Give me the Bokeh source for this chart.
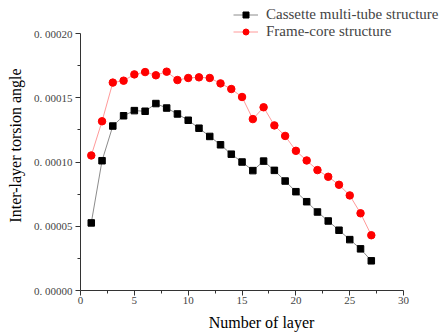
from bokeh.plotting import figure
from bokeh.models import FixedTicker, CustomJSTickFormatter, Legend, LegendItem, Range1d
from bokeh.embed import file_html
from bokeh.resources import INLINE

layers = list(range(1, 28))
cassette = [5.26e-5, 1.01e-4, 1.28e-4, 1.36e-4, 1.40e-4, 1.395e-4, 1.455e-4, 1.42e-4, 1.374e-4,
            1.325e-4, 1.263e-4, 1.199e-4, 1.134e-4, 1.061e-4, 1.00e-4, 9.33e-5, 1.007e-4, 9.35e-5,
            8.52e-5, 7.69e-5, 6.91e-5, 6.11e-5, 5.41e-5, 4.69e-5, 3.96e-5, 3.24e-5, 2.31e-5]
frame_core = [1.051e-4, 1.317e-4, 1.618e-4, 1.633e-4, 1.682e-4, 1.70e-4, 1.675e-4, 1.703e-4, 1.638e-4,
              1.654e-4, 1.659e-4, 1.654e-4, 1.612e-4, 1.568e-4, 1.506e-4, 1.334e-4, 1.426e-4, 1.285e-4,
              1.203e-4, 1.087e-4, 1.012e-4, 9.37e-5, 8.85e-5, 8.23e-5, 7.40e-5, 6.01e-5, 4.30e-5]
series_names = ["Cassette multi-tube structure", "Frame-core structure"]
x_ticks = [0, 5, 10, 15, 20, 25, 30]
x_minor = [2.5, 7.5, 12.5, 17.5, 22.5, 27.5]
y_ticks = [0.0, 0.00005, 0.0001, 0.00015, 0.0002]
y_minor = [0.000025, 0.000075, 0.000125, 0.000175]

p = figure(width=442, height=333, output_backend="svg", toolbar_location=None,
           x_range=Range1d(0, 33.61), y_range=Range1d(0, 0.0002257),
           min_border_left=80, min_border_right=0, min_border_top=0, min_border_bottom=43)
p.outline_line_color = None
p.grid.visible = False
p.background_fill_color = "white"
p.border_fill_color = "white"

serif = "Liberation Serif"

l1 = p.line(layers, cassette, line_color="#8c8c8c", line_width=1)
s1 = p.scatter(layers, cassette, marker="square", size=6.5, fill_color="black", line_color="black")
l2 = p.line(layers, frame_core, line_color="#ff9a9a", line_width=1)
s2 = p.scatter(layers, frame_core, marker="circle", size=7.5, fill_color="red", line_color="red")

p.xaxis.ticker = FixedTicker(ticks=x_ticks, minor_ticks=x_minor)
p.yaxis.ticker = FixedTicker(ticks=y_ticks, minor_ticks=y_minor)
p.xaxis.bounds = (x_ticks[0], x_ticks[-1])
p.yaxis.bounds = (y_ticks[0], y_ticks[-1])
p.yaxis.formatter = CustomJSTickFormatter(code="""
const n = Math.round(tick * 1e5);
return "0. " + String(n).padStart(5, "0");
""")

for ax in (p.xaxis, p.yaxis):
    ax.axis_line_color = "#333333"
    ax.major_tick_line_color = "#333333"
    ax.minor_tick_line_color = "#333333"
    ax.major_tick_in = 0
    ax.major_tick_out = 5
    ax.minor_tick_in = 0
    ax.minor_tick_out = 3
    ax.major_label_text_font = serif
    ax.major_label_text_font_size = "11px"
    ax.major_label_text_color = "#444444"
    ax.axis_label_text_font = serif
    ax.axis_label_text_font_size = "16px"
    ax.axis_label_text_font_style = "normal"
    ax.axis_label_text_color = "black"

p.xaxis.axis_label = "Number of layer"
p.yaxis.axis_label = "Inter-layer torsion angle"
p.yaxis.major_label_standoff = 3
p.yaxis.axis_label_standoff = 7
p.xaxis.major_label_standoff = 1
p.xaxis.axis_label_standoff = 7

legend = Legend(items=[LegendItem(label=series_names[0], renderers=[l1, s1]),
                       LegendItem(label=series_names[1], renderers=[l2, s2])],
                location=(153, 250), padding=0, margin=0, spacing=0,
                glyph_width=25, glyph_height=15, label_height=15, label_standoff=8,
                label_text_font=serif, label_text_font_size="15px",
                border_line_color=None, background_fill_alpha=0)
p.add_layout(legend, "center")

open("out.html", "w").write(file_html(p, INLINE))
